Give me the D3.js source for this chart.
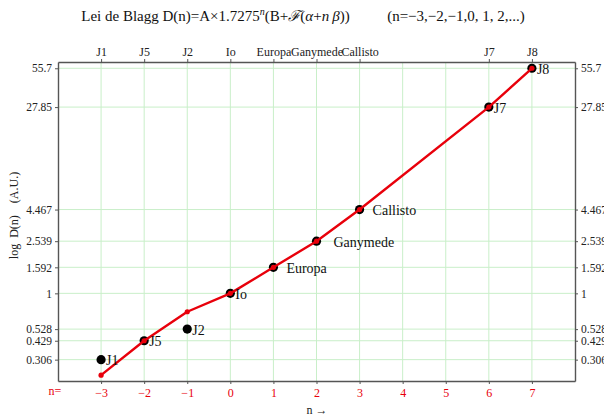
<!DOCTYPE html>
<html>
<head>
<meta charset="utf-8">
<script src="https://cdn.jsdelivr.net/npm/d3@7"></script>
<style>
  html, body { margin: 0; padding: 0; background: #fff; }
  svg { display: block; font-family: "Liberation Serif", "Times New Roman", serif; }
</style>
</head>
<body>
<svg id="chart" width="604" height="419"></svg>
<script>
// Jovian satellites and their index n in the Blagg law
const moons = ["J1", "J5", "J2", "Io", "Europa", "Ganymede", "Callisto", "J7", "J8"];
const nIndex = [-3, -2, -1, 0, 1, 2, 3, 6, 7];
// observed distances (A.U. relative to Io)
const observed = [0.306, 0.429, 0.528, 1, 1.592, 2.539, 4.467, 27.85, 55.7];
// distances given by the Blagg formula
const blagg = [0.232, 0.429, 0.72, 1, 1.592, 2.539, 4.467, 27.85, 55.7];
// axis ticks
const yTicks = [0.306, 0.429, 0.528, 1, 1.592, 2.539, 4.467, 27.85, 55.7];
const nTicks = [-3, -2, -1, 0, 1, 2, 3, 4, 5, 6, 7];
// label offsets for the points (px to the right of the dot)
const labelDx = [5, 5, 5, 5, 13, 17, 13, 5, 5];

const svg = d3.select("#chart");
const plotLeft = 58, plotRight = 575, plotTop = 62, plotBottom = 381;

const x = d3.scaleLinear().domain([-4, 8]).range([plotLeft, plotRight]);
const y = d3.scaleLog().domain([0.209, 62.3]).range([plotBottom, plotTop]);

const gridColor = "#c9efc9";
const frameColor = "#555";
const red = "#e8000b";

// title
const title = svg.append("text")
  .attr("x", 303).attr("y", 21)
  .attr("text-anchor", "middle")
  .attr("font-size", 15)
  .attr("fill", "#111");
title.append("tspan").text("Lei de Blagg D(n)=A\u00d71.7275");
title.append("tspan").attr("font-style", "italic").attr("font-size", 10).attr("dy", -6).text("n");
title.append("tspan").attr("dy", 6).text("(B+");
title.append("tspan").attr("font-style", "italic").text("\u2131");
title.append("tspan").text("(");
title.append("tspan").attr("font-style", "italic").text("\u03b1");
title.append("tspan").text("+");
title.append("tspan").attr("font-style", "italic").text("n\u2009\u03b2");
title.append("tspan").text("))\u00a0\u00a0\u00a0\u00a0\u00a0\u00a0\u00a0\u00a0\u00a0\u00a0(n=\u22123,\u22122,\u22121,0, 1, 2,...)");

// grid
const grid = svg.append("g").attr("stroke", gridColor).attr("stroke-width", 1);
grid.selectAll("line.v").data(nTicks).join("line")
  .attr("class", "v")
  .attr("x1", d => x(d)).attr("x2", d => x(d))
  .attr("y1", plotTop).attr("y2", plotBottom);
grid.selectAll("line.h").data(yTicks).join("line")
  .attr("class", "h")
  .attr("x1", plotLeft).attr("x2", plotRight)
  .attr("y1", d => y(d)).attr("y2", d => y(d));

// axes
function styleAxis(g, color, size) {
  g.select(".domain").attr("stroke", frameColor).attr("stroke-width", 1.4);
  g.selectAll(".tick line").attr("stroke", frameColor);
  g.selectAll(".tick text")
    .attr("fill", color)
    .attr("font-family", "Liberation Serif, serif")
    .attr("font-size", size);
}
const fmt = d => String(d);

svg.append("g").attr("transform", `translate(${plotLeft},0)`)
  .call(d3.axisLeft(y).tickValues(yTicks).tickFormat(fmt).tickSize(3).tickSizeOuter(0))
  .call(g => styleAxis(g, "#222", 11.5));
svg.append("g").attr("transform", `translate(${plotRight},0)`)
  .call(d3.axisRight(y).tickValues(yTicks).tickFormat(fmt).tickSize(3).tickSizeOuter(0))
  .call(g => styleAxis(g, "#222", 11.5));
svg.append("g").attr("transform", `translate(0,${plotBottom})`)
  .call(d3.axisBottom(x).tickValues(nTicks).tickFormat(d3.format("d")).tickSize(3).tickSizeOuter(0).tickPadding(4))
  .call(g => styleAxis(g, red, 12));
svg.append("g").attr("transform", `translate(0,${plotTop})`)
  .call(d3.axisTop(x).tickValues(nIndex).tickFormat((d, i) => moons[i]).tickSize(3).tickSizeOuter(0))
  .call(g => styleAxis(g, "#222", 12));

// axis titles
svg.append("text")
  .attr("x", 55).attr("y", 395)
  .attr("text-anchor", "middle")
  .attr("font-size", 12).attr("fill", red)
  .text("n=");
svg.append("text")
  .attr("x", 317).attr("y", 414)
  .attr("text-anchor", "middle")
  .attr("font-size", 12).attr("fill", "#222")
  .text("n \u2192");
svg.append("text")
  .attr("transform", `translate(18,${(plotTop + plotBottom) / 2 - 6}) rotate(-90)`)
  .attr("text-anchor", "middle")
  .attr("font-size", 12).attr("fill", "#222")
  .attr("xml:space", "preserve")
  .text("log  D(n)    (A.U.)");

// observed positions
const pts = moons.map((m, i) => ({ name: m, n: nIndex[i], v: observed[i], b: blagg[i], dx: labelDx[i] }));
svg.append("g").selectAll("circle").data(pts).join("circle")
  .attr("cx", d => x(d.n)).attr("cy", d => y(d.v))
  .attr("r", 4.6).attr("fill", "#000");

// Blagg formula curve
const line = d3.line().x(d => x(d.n)).y(d => y(d.b));
svg.append("path").datum(pts)
  .attr("d", line)
  .attr("fill", "none")
  .attr("stroke", red)
  .attr("stroke-width", 2.4)
  .attr("stroke-linejoin", "round");
svg.append("g").selectAll("circle").data(pts).join("circle")
  .attr("cx", d => x(d.n)).attr("cy", d => y(d.b))
  .attr("r", 2.6).attr("fill", red);

// point labels
svg.append("g").selectAll("text").data(pts).join("text")
  .attr("x", d => x(d.n) + d.dx)
  .attr("y", d => y(d.v))
  .attr("dy", "0.4em")
  .attr("font-size", 14).attr("fill", "#111")
  .text(d => d.name);
</script>
</body>
</html>
